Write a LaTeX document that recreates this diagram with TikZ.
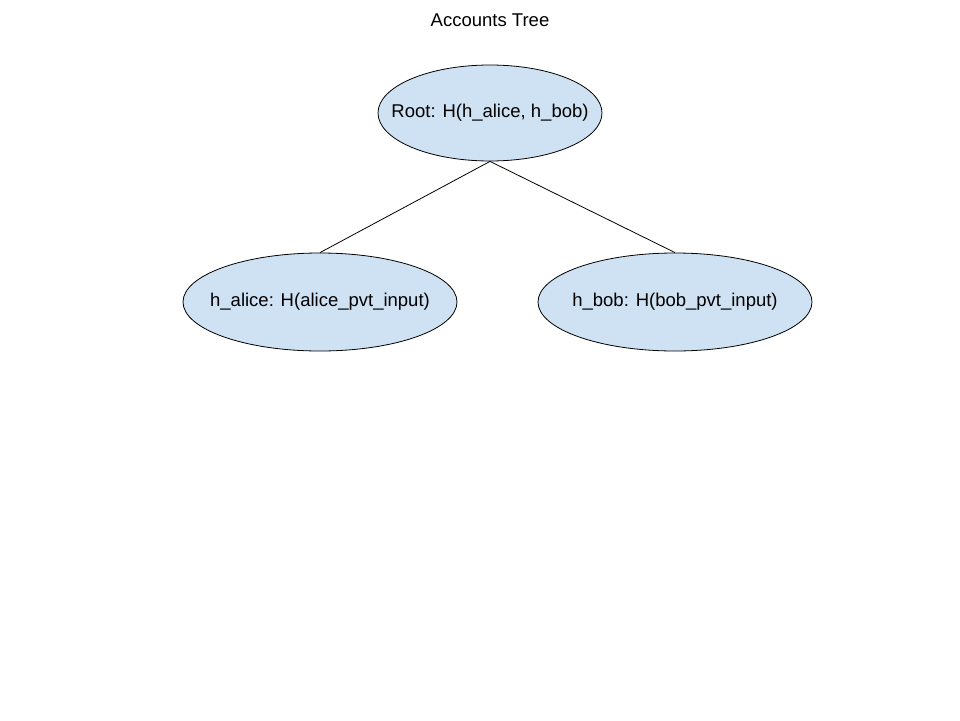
\documentclass[tikz,border=0pt]{standalone}
\usepackage{fontspec}
\setmainfont{Liberation Sans}
\usetikzlibrary{shapes.geometric}
\definecolor{nodefill}{HTML}{CFE2F3}
\begin{document}
\begin{tikzpicture}[x=1pt,y=-1pt,
  treenode/.style={ellipse,draw=black,fill=nodefill,line width=0.8pt,inner sep=0pt,
    font=\fontsize{18.5}{21}\selectfont},
  edge/.style={draw=black,line width=0.8pt}]
\useasboundingbox (0,0) rectangle (960,720);
\node[font=\fontsize{18.5}{21}\selectfont] (title) at (490,20) {Accounts Tree};
\node[treenode,minimum width=224pt,minimum height=96pt] (root) at (490,113) {\makebox[0pt]{Root: H(h\_alice, h\_bob)}};
\node[treenode,minimum width=274pt,minimum height=98pt] (alice) at (320,302) {\makebox[0pt]{h\_alice: H(alice\_pvt\_input)}};
\node[treenode,minimum width=274pt,minimum height=98pt] (bob) at (675,302) {\makebox[0pt]{h\_bob: H(bob\_pvt\_input)}};
\draw[edge] (root.south) -- (alice.north);
\draw[edge] (root.south) -- (bob.north);
\end{tikzpicture}
\end{document}
